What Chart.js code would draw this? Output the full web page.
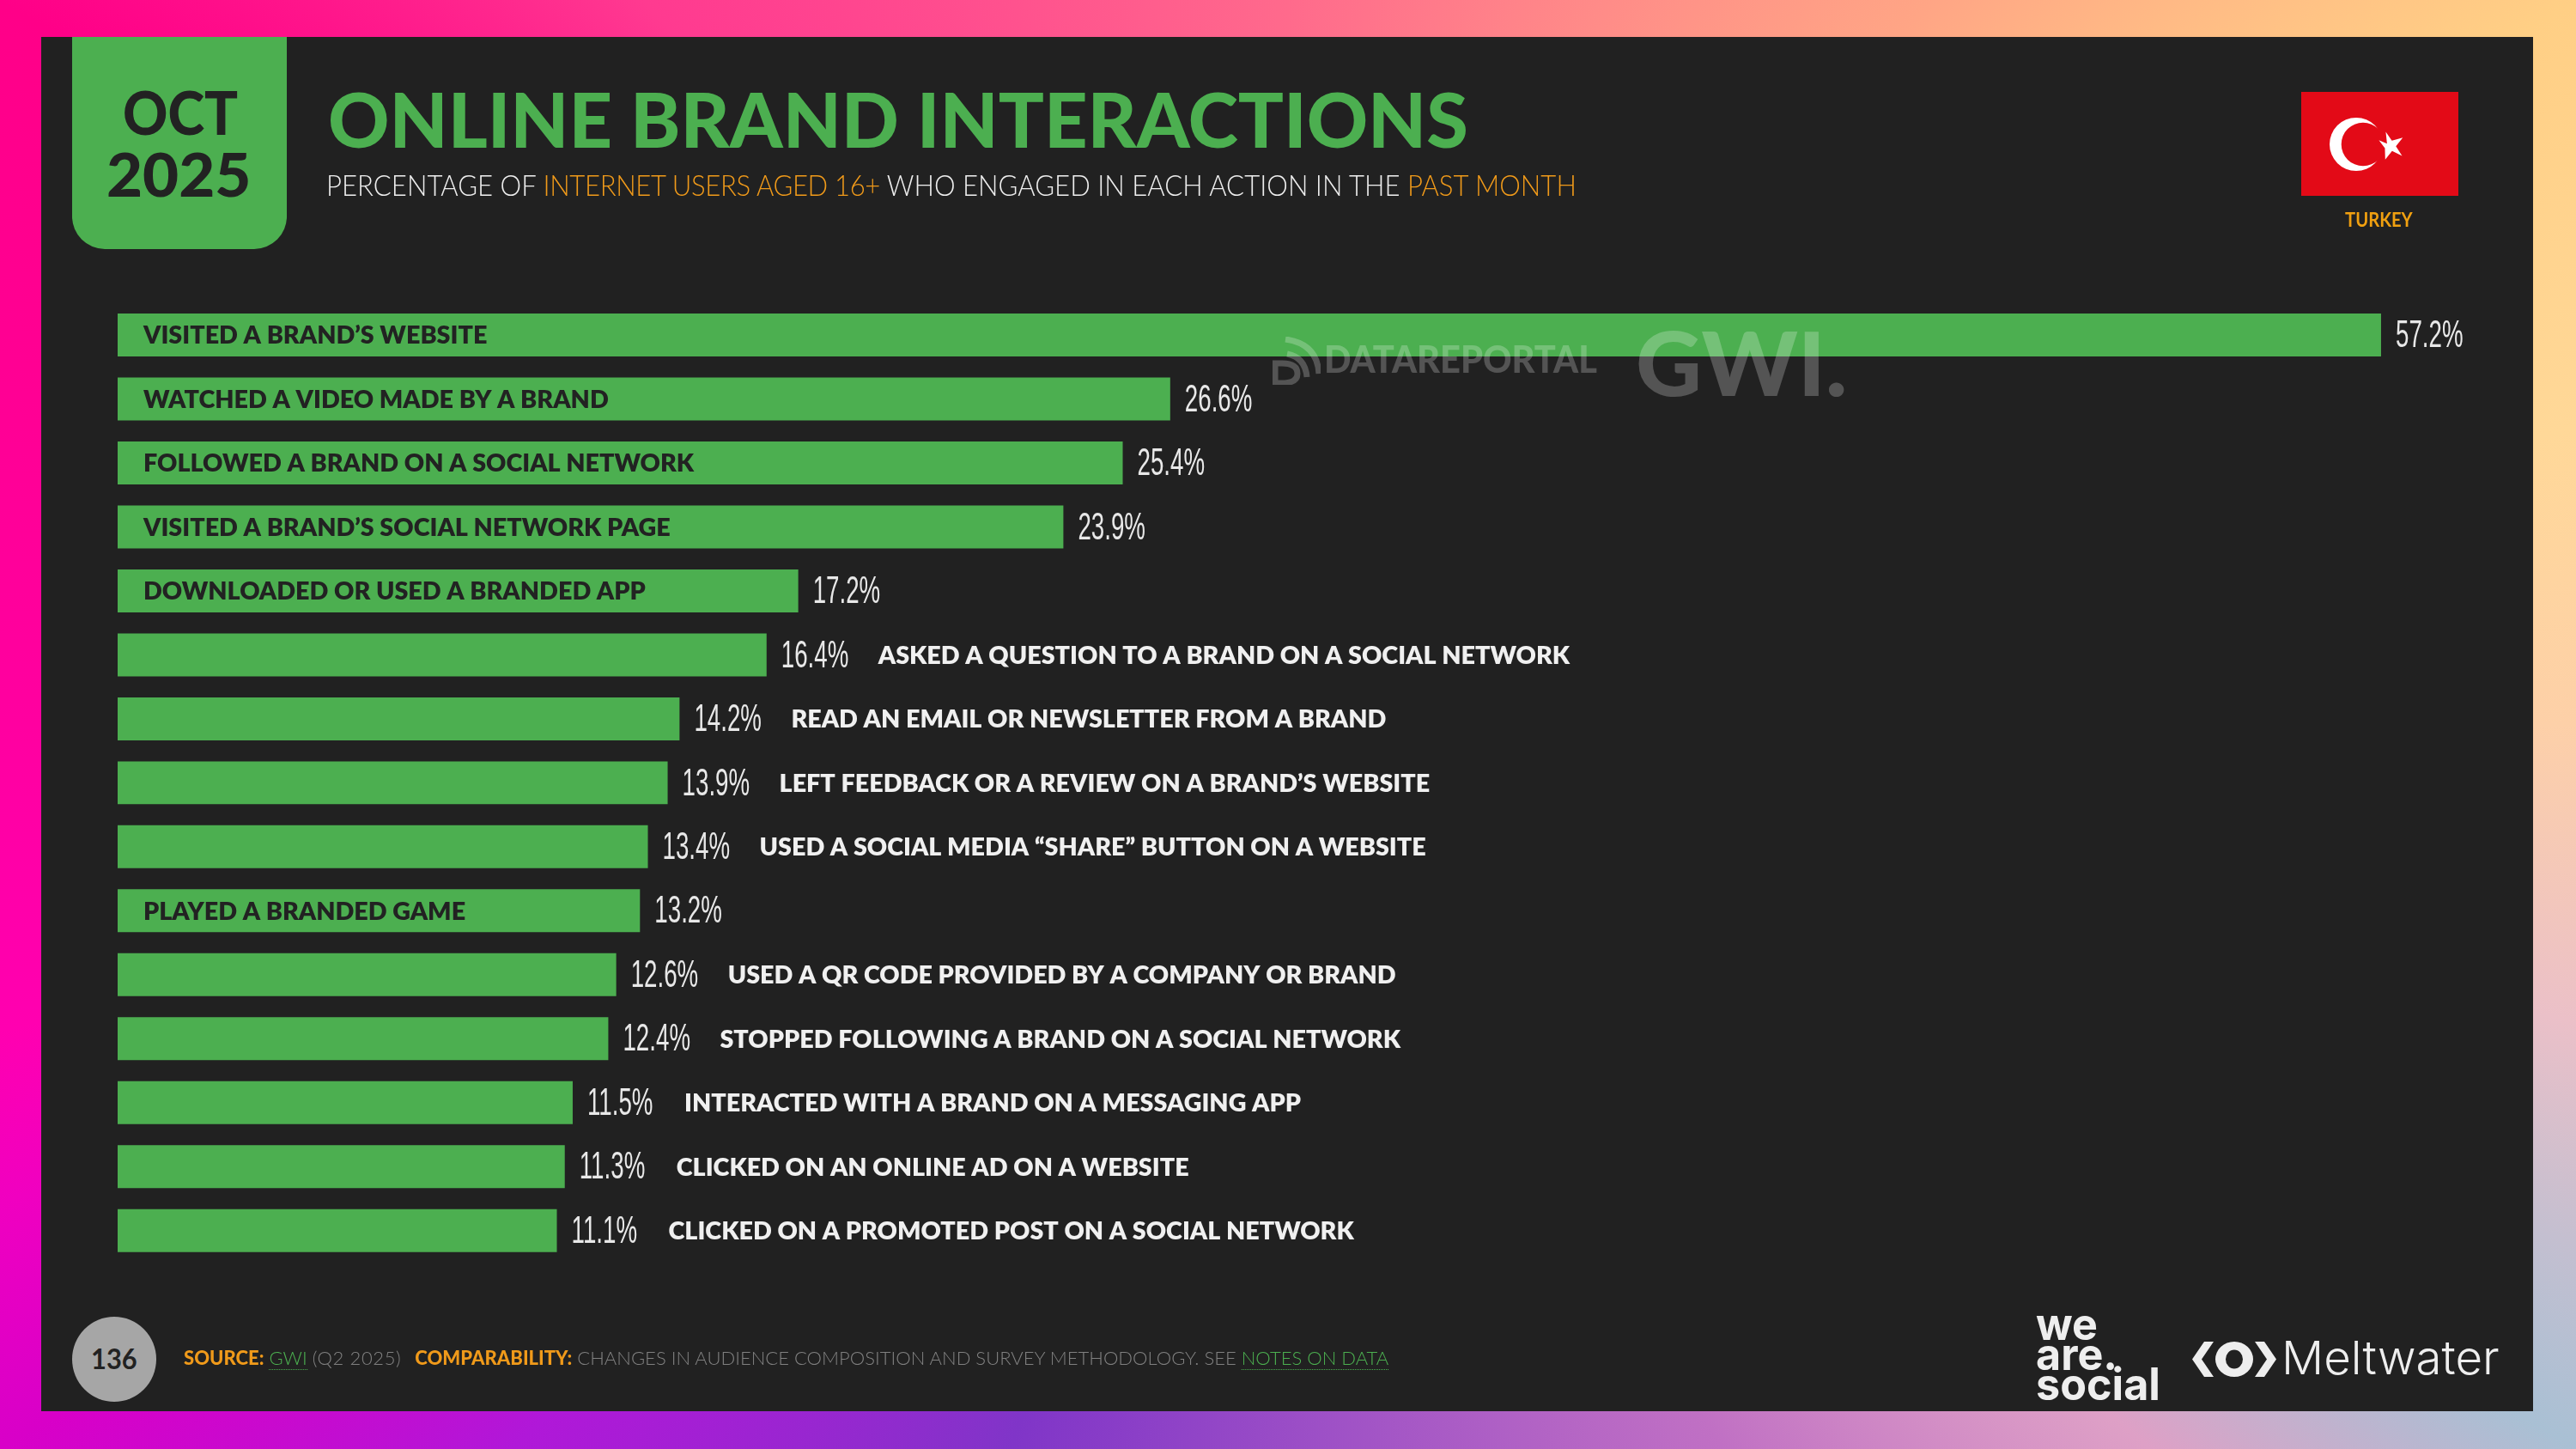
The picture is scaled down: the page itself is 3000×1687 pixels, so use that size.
<!DOCTYPE html>
<html>
<head>
<meta charset="utf-8">
<title>Online brand interactions</title>
<script src="https://cdn.jsdelivr.net/npm/chart.js@4"></script>
<style>
  html, body { margin: 0; padding: 0; }
  body {
    width: 3000px; height: 1687px; position: relative; overflow: hidden;
    font-family: Lato, sans-serif;
    background: conic-gradient(from 0deg at 50% 50%,
      #ff6a8c 0deg, #ffa585 41.7deg, #ffcf85 60.7deg, #ffd898 77deg, #fdd0a8 90deg,
      #ebc0c8 103deg, #c4bfd0 112deg, #a9c0d4 119.3deg, #dea0c6 130deg, #c070c4 149deg,
      #8035c8 201deg, #b018d8 227deg, #d800c8 240.7deg, #f000c0 249.6deg, #ff00b0 256.6deg,
      #ff00a0 270deg, #ff0088 299.3deg, #ff3a90 318.3deg, #ff6a8c 360deg);
  }
  #panel { position: absolute; left: 48px; top: 43px; width: 2902px; height: 1600px; background: #212121; }
  #tab { position: absolute; left: 84px; top: 43px; width: 250px; height: 247px; background: #4caf50; border-radius: 0 0 38px 38px; }
  canvas { position: absolute; left: 0; top: 0; }
  .t { position: absolute; white-space: nowrap; transform-origin: 0 0; line-height: 1; }
  .o { color: #f09a1a; }
  .g { color: #4caf50; }
  #circle { position: absolute; left: 84px; top: 1533px; width: 98px; height: 99px; border-radius: 50%; background: #a6a6a6; }
  svg { position: absolute; }
</style>
</head>
<body>
<div id="panel"></div>
<div id="tab"></div>
<canvas id="chart" width="3000" height="1687"></canvas>

<div class="t" data-w="134" style="left:143px;top:95px;font-size:70px;font-weight:900;color:#222">OCT</div>
<div class="t" data-w="168" style="left:124px;top:167px;font-size:70px;font-weight:900;color:#222">2025</div>
<div class="t g" data-w="1328" style="left:382px;top:94px;font-size:88px;font-weight:900">ONLINE BRAND INTERACTIONS</div>
<div class="t" data-w="1456" style="left:380px;top:198px;font-size:34px;font-weight:300;color:#eee">PERCENTAGE OF <span class="o" style="letter-spacing:-0.4px">INTERNET USERS AGED 16+</span> WHO ENGAGED IN EACH ACTION IN THE <span class="o">PAST MONTH</span></div>

<svg style="left:2680px;top:107px" width="183" height="121" viewBox="0 0 183 121">
  <rect width="183" height="121" fill="#e30a17"/>
  <circle cx="64" cy="61" r="31" fill="#fff"/>
  <circle cx="72" cy="61" r="25.3" fill="#e30a17"/>
  <polygon fill="#fff" points="91,55 100,60 100,46 106,57 119,55 110,64 116,76 105,69 96,78 97,65" transform="rotate(-6 103 61)"/>
</svg>
<div class="t" data-w="79" style="left:2731px;top:245px;font-size:22px;font-weight:700;color:#f0a010">TURKEY</div>

<div class="t" data-w="318" style="left:1542px;top:395px;font-size:44px;font-weight:900;color:rgba(255,255,255,0.23)">DATAREPORTAL</div>
<svg style="left:1482px;top:392px" width="56" height="56" viewBox="0 0 56 56" fill="none" stroke="rgba(255,255,255,0.23)">
  <path d="M3 31 H11 Q29 31 29 43 Q29 54 11 54 H3 Z" stroke-width="7"/>
  <path d="M17 20 Q38 24 40 47" stroke-width="7"/>
  <path d="M15 3 Q52 8 54 43" stroke-width="7"/>
</svg>
<div class="t" data-w="246" style="left:1905px;top:371px;font-size:102px;font-weight:900;color:rgba(255,255,255,0.23)">GWI.</div>

<div id="circle"></div>
<div class="t" data-w="54" style="left:106px;top:1566px;font-size:32px;font-weight:700;color:#222">136</div>
<div class="t" data-w="1403" style="left:214px;top:1570px;font-size:22px;font-weight:300;color:#808080"><span class="o" style="font-weight:900">SOURCE:</span> <span class="g" style="border-bottom:1px dotted #4caf50">GWI</span> <span style="letter-spacing:0.6px">(Q2 2025)</span> <span class="o" style="font-weight:900;margin-left:10px">COMPARABILITY:</span> CHANGES IN AUDIENCE COMPOSITION AND SURVEY METHODOLOGY. SEE <span class="g" style="border-bottom:1px dotted #4caf50">NOTES ON DATA</span></div>

<div class="t" style="left:2371px;top:1524px;font-size:52px;font-weight:700;color:#eee;font-family:Inter,sans-serif;line-height:35px" data-w="145">we<br>are.<br>social</div>
<svg style="left:2553px;top:1562px" width="98" height="41" viewBox="0 0 98 41" fill="#eee">
  <polygon points="14,0 25,0 11,20.5 25,41 14,41 0,20.5"/>
  <polygon points="84,0 73,0 87,20.5 73,41 84,41 98,20.5"/>
  <path fill-rule="evenodd" d="M27 20.5 A22 20.5 0 1 0 71 20.5 A22 20.5 0 1 0 27 20.5 Z M39 20.5 A10 11 0 1 0 59 20.5 A10 11 0 1 0 39 20.5 Z"/>
</svg>
<div class="t" data-w="254" style="left:2657px;top:1554px;font-size:54px;font-weight:300;color:#eee;font-family:Inter,sans-serif">Meltwater</div>

<script>
var categories = [
  "VISITED A BRAND\u2019S WEBSITE",
  "WATCHED A VIDEO MADE BY A BRAND",
  "FOLLOWED A BRAND ON A SOCIAL NETWORK",
  "VISITED A BRAND\u2019S SOCIAL NETWORK PAGE",
  "DOWNLOADED OR USED A BRANDED APP",
  "ASKED A QUESTION TO A BRAND ON A SOCIAL NETWORK",
  "READ AN EMAIL OR NEWSLETTER FROM A BRAND",
  "LEFT FEEDBACK OR A REVIEW ON A BRAND\u2019S WEBSITE",
  "USED A SOCIAL MEDIA \u201CSHARE\u201D BUTTON ON A WEBSITE",
  "PLAYED A BRANDED GAME",
  "USED A QR CODE PROVIDED BY A COMPANY OR BRAND",
  "STOPPED FOLLOWING A BRAND ON A SOCIAL NETWORK",
  "INTERACTED WITH A BRAND ON A MESSAGING APP",
  "CLICKED ON AN ONLINE AD ON A WEBSITE",
  "CLICKED ON A PROMOTED POST ON A SOCIAL NETWORK"
];
var percentages = [57.2, 26.6, 25.4, 23.9, 17.2, 16.4, 14.2, 13.9, 13.4, 13.2, 12.6, 12.4, 11.5, 11.3, 11.1];

// squeeze the wider fonts down to the width the text has in the slide
document.querySelectorAll(".t[data-w]").forEach(function (el) {
  el.style.transform = "scaleX(" + (el.dataset.w / el.offsetWidth) + ")";
});

var LABEL_FONT = "800 29px Lato";
var LABEL_SQUEEZE = 0.99;
var VALUE_FONT = "44px 'Liberation Sans'";
var VALUE_SQUEEZE = 0.63;

function squeezedText(ctx, text, x, y, squeeze) {
  ctx.save();
  ctx.translate(x, y);
  ctx.scale(squeeze, 1);
  ctx.fillText(text, 0, 0);
  ctx.restore();
}

var barLabels = {
  id: "barLabels",
  afterDatasetsDraw: function (chart) {
    var ctx = chart.ctx;
    var bars = chart.getDatasetMeta(0).data;
    ctx.save();
    ctx.textBaseline = "middle";
    ctx.textAlign = "left";
    bars.forEach(function (bar, i) {
      var barLength = bar.x - chart.scales.x.getPixelForValue(0);
      ctx.font = VALUE_FONT;
      ctx.fillStyle = "#e8e8e8";
      squeezedText(ctx, percentages[i].toFixed(1) + "%", bar.x + 17, bar.y + 2, VALUE_SQUEEZE);

      ctx.font = LABEL_FONT;
      var labelWidth = ctx.measureText(categories[i]).width * LABEL_SQUEEZE;
      if (labelWidth + 60 < barLength) {
        ctx.fillStyle = "#222";
        squeezedText(ctx, categories[i], chart.scales.x.getPixelForValue(0) + 30, bar.y + 1, LABEL_SQUEEZE);
      } else {
        ctx.fillStyle = "#f0f0f0";
        squeezedText(ctx, categories[i], bar.x + 130, bar.y + 1, LABEL_SQUEEZE);
      }
    });
    ctx.restore();
  }
};

new Chart(document.getElementById("chart"), {
  type: "bar",
  data: {
    labels: categories,
    datasets: [{
      data: percentages,
      backgroundColor: "#4caf50",
      barPercentage: 0.671,
      categoryPercentage: 1
    }]
  },
  options: {
    indexAxis: "y",
    responsive: false,
    animation: false,
    devicePixelRatio: 1,
    layout: { padding: { left: 137, right: 98, top: 352.75, bottom: 217 } },
    scales: {
      x: { display: false, min: 0, max: 60 },
      y: { display: false }
    },
    plugins: {
      legend: { display: false },
      tooltip: { enabled: false }
    }
  },
  plugins: [barLabels]
});
</script>
</body>
</html>
